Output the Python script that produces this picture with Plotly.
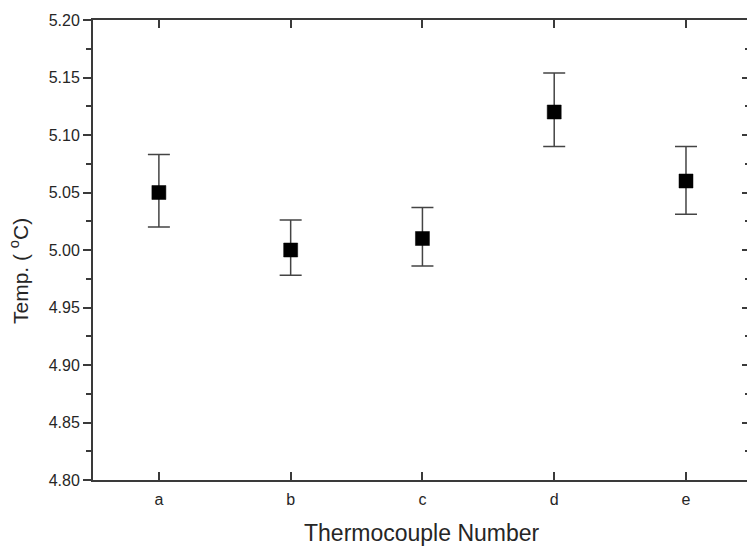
import plotly.graph_objects as go

# Thermocouple readings: mean temperature with asymmetric error bounds
thermocouples = ["a", "b", "c", "d", "e"]
temp_mean = [5.050, 5.000, 5.010, 5.120, 5.060]
temp_upper = [5.083, 5.026, 5.037, 5.154, 5.090]
temp_lower = [5.020, 4.978, 4.986, 5.090, 5.031]

err_plus = [u - m for u, m in zip(temp_upper, temp_mean)]
err_minus = [m - l for m, l in zip(temp_mean, temp_lower)]

FONT = "Liberation Sans, Arial, sans-serif"
AXIS_COLOR = "#3a3a3a"
TEXT_COLOR = "#262626"

fig = go.Figure()

fig.add_trace(go.Scatter(
    x=thermocouples,
    y=temp_mean,
    mode="markers",
    marker=dict(symbol="square", size=14, color="black",
                line=dict(color="black", width=0.5)),
    error_y=dict(type="data", symmetric=False, array=err_plus,
                 arrayminus=err_minus, color="#444444",
                 thickness=1.5, width=11),
    showlegend=False,
))

# invisible companion trace so the right-hand tick axis is rendered
fig.add_trace(go.Scatter(
    x=thermocouples, y=temp_mean, yaxis="y2", mode="markers",
    marker=dict(opacity=0), hoverinfo="skip", showlegend=False,
))

fig.update_layout(
    width=747, height=556,
    margin=dict(l=93, r=0, t=20, b=76),
    paper_bgcolor="white", plot_bgcolor="white",
    font=dict(family=FONT, color=TEXT_COLOR, size=16),
    xaxis=dict(
        type="category",
        range=[-0.5, 4.463],
        showgrid=False, zeroline=False,
        showline=True, linecolor=AXIS_COLOR, linewidth=2,
        mirror="ticks",
        ticks="inside", ticklen=8, tickwidth=1.5, tickcolor=AXIS_COLOR,
        ticklabelstandoff=4,
        tickfont=dict(size=16, color=TEXT_COLOR),
    ),
    yaxis=dict(
        range=[4.80, 5.20],
        dtick=0.05, tick0=4.80, tickformat=".2f",
        showgrid=False, zeroline=False,
        showline=True, linecolor=AXIS_COLOR, linewidth=2,
        ticks="outside", ticklen=8, tickwidth=1.5, tickcolor=AXIS_COLOR,
        tickfont=dict(size=16, color=TEXT_COLOR),
        minor=dict(ticks="outside", ticklen=5, dtick=0.025, tick0=4.80,
                   tickwidth=1.5, tickcolor=AXIS_COLOR),
    ),
    yaxis2=dict(
        overlaying="y", side="right", anchor="x",
        range=[4.80, 5.20], dtick=0.05, tick0=4.80,
        showgrid=False, zeroline=False, showline=False,
        showticklabels=False,
        ticks="inside", ticklen=5, tickwidth=1.5, tickcolor=AXIS_COLOR,
        minor=dict(ticks="inside", ticklen=2, dtick=0.025, tick0=4.80,
                   tickwidth=1.5, tickcolor=AXIS_COLOR),
    ),
    annotations=[
        dict(text="Thermocouple Number", xref="paper", yref="paper",
             x=(422 - 93) / 654, y=-(533 - 480) / 460,
             xanchor="center", yanchor="middle", showarrow=False,
             font=dict(size=23, color=TEXT_COLOR, family=FONT)),
        dict(text="Temp. ( <sup>o</sup>C)", xref="paper", yref="paper",
             x=-(93 - 19) / 654, y=(480 - 271) / 460,
             xanchor="center", yanchor="middle", showarrow=False,
             textangle=-90,
             font=dict(size=21, color=TEXT_COLOR, family=FONT)),
    ],
)

fig.write_html("out.html")
